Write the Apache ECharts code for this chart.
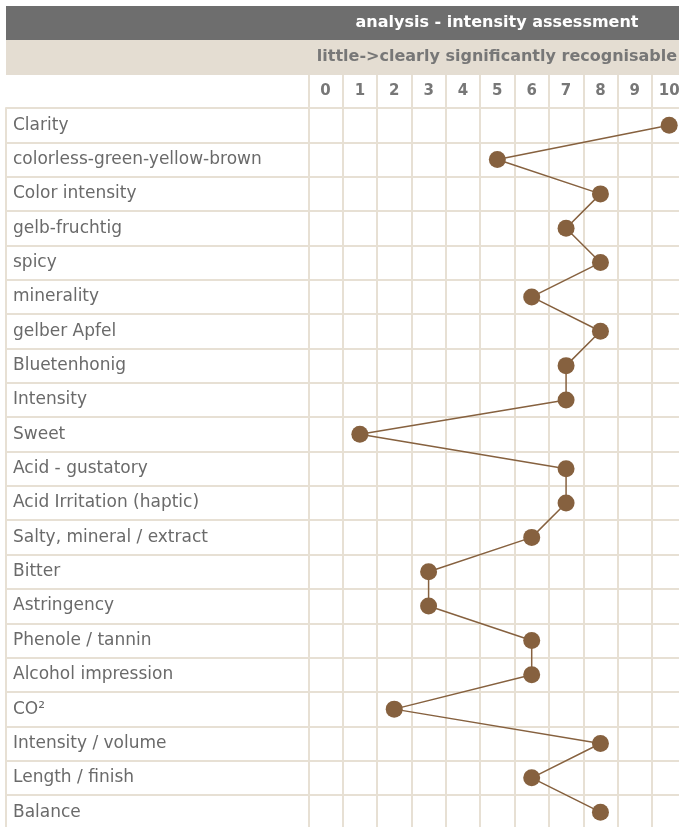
<!DOCTYPE html>
<html>
<head>
<meta charset="utf-8">
<script src="https://cdn.jsdelivr.net/npm/echarts@6/dist/echarts.min.js"></script>
<style>
html,body{margin:0;padding:0;background:#fff;}
#chart{width:679px;height:827px;}
</style>
</head>
<body>
<div id="chart"></div>
<script>
const titleText = 'analysis - intensity assessment';
const subtitleText = 'little->clearly significantly recognisable';
const scaleLabels = ['0','1','2','3','4','5','6','7','8','9','10'];
const categories = [
  'Clarity',
  'colorless-green-yellow-brown',
  'Color intensity',
  'gelb-fruchtig',
  'spicy',
  'minerality',
  'gelber Apfel',
  'Bluetenhonig',
  'Intensity',
  'Sweet',
  'Acid - gustatory',
  'Acid Irritation (haptic)',
  'Salty, mineral / extract',
  'Bitter',
  'Astringency',
  'Phenole / tannin',
  'Alcohol impression',
  'CO²',
  'Intensity / volume',
  'Length / finish',
  'Balance'
];
const scores = [10, 5, 8, 7, 8, 6, 8, 7, 7, 1, 7, 7, 6, 3, 3, 6, 6, 2, 8, 6, 8];

const FONT = 'DejaVu Sans';
const GRID_LINE = '#e7e0d4';
const ROW_H = 34.35;
const COL_W = 34.37;
const TOP = 108;
const PLOT_LEFT = 308.3;

const chart = echarts.init(document.getElementById('chart'), null, {renderer: 'canvas'});
const option = {
  animation: false,
  backgroundColor: '#fff',
  textStyle: {fontFamily: FONT},
  graphic: [
    {type: 'rect', shape: {x: 6, y: 6, width: 680, height: 34}, style: {fill: '#6e6e6e'}, z: 0},
    {type: 'rect', shape: {x: 6, y: 40, width: 680, height: 35}, style: {fill: '#e4ddd2'}, z: 0},
    {type: 'text', x: 497, y: 23, style: {text: titleText, fill: '#ffffff', font: 'bold 16px "DejaVu Sans"', textAlign: 'center', textVerticalAlign: 'middle'}, z: 5},
    {type: 'text', x: 497, y: 57, style: {text: subtitleText, fill: '#777777', font: 'bold 16px "DejaVu Sans"', textAlign: 'center', textVerticalAlign: 'middle'}, z: 5}
  ],
  grid: [
    {left: 6, top: TOP, width: PLOT_LEFT - 6, height: ROW_H * categories.length, containLabel: false, outerBoundsMode: 'none', show: false},
    {left: PLOT_LEFT, top: TOP, width: COL_W * scaleLabels.length, height: ROW_H * categories.length, containLabel: false, outerBoundsMode: 'none', show: false}
  ],
  xAxis: [
    {gridIndex: 0, type: 'value', min: 0, max: 1, show: false},
    {
      gridIndex: 1, type: 'category', data: scaleLabels, position: 'top', boundaryGap: true,
      axisLine: {show: true, onZero: false, lineStyle: {color: GRID_LINE, width: 2}},
      axisTick: {show: true, length: 33, inside: false, interval: 0, lineStyle: {color: GRID_LINE, width: 2}},
      axisLabel: {show: true, interval: 0, color: '#777777', fontWeight: 'bold', fontSize: 15, fontFamily: FONT, margin: 9},
      splitLine: {show: true, interval: 0, lineStyle: {color: GRID_LINE, width: 2}}
    },
    {gridIndex: 1, type: 'value', min: -0.5, max: 10.5, show: false}
  ],
  yAxis: [
    {
      gridIndex: 0, type: 'category', data: categories, inverse: true, boundaryGap: true,
      axisLine: {show: true, onZero: false, lineStyle: {color: GRID_LINE, width: 2}},
      axisTick: {show: false},
      axisLabel: {show: true, inside: true, interval: 0, margin: 7, color: '#6a6a6a', fontSize: 17, fontFamily: FONT, align: 'left', padding: [4, 0, 0, 0]},
      splitLine: {show: true, interval: 0, lineStyle: {color: GRID_LINE, width: 2}}
    },
    {
      gridIndex: 1, type: 'category', data: categories, inverse: true, boundaryGap: true,
      axisLine: {show: true, onZero: false, lineStyle: {color: GRID_LINE, width: 2}},
      axisTick: {show: false},
      axisLabel: {show: false},
      splitLine: {show: true, interval: 0, lineStyle: {color: GRID_LINE, width: 2}}
    }
  ],
  series: [{
    type: 'line',
    xAxisIndex: 2,
    yAxisIndex: 1,
    data: scores.map((v, i) => [v, categories[i]]),
    symbol: 'circle',
    symbolSize: 17,
    itemStyle: {color: '#86613f'},
    lineStyle: {color: '#86613f', width: 1.5},
    z: 10
  }]
};
chart.setOption(option);
</script>
</body>
</html>
